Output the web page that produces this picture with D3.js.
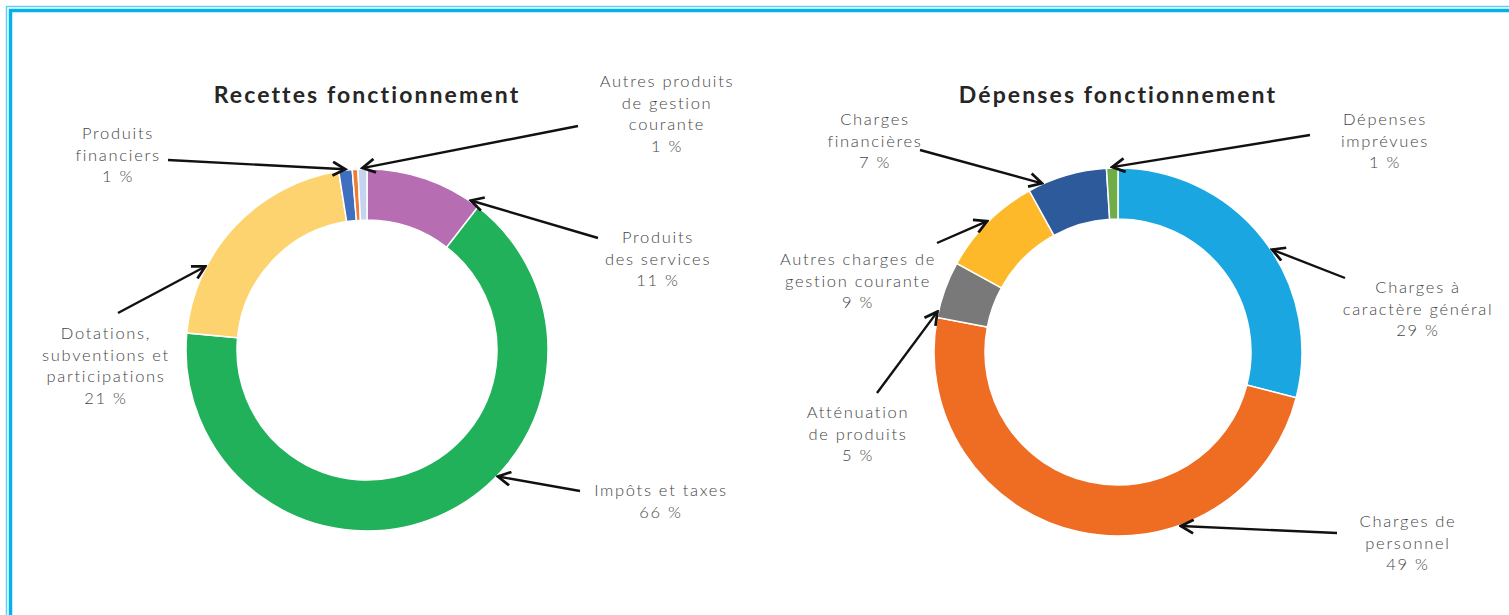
<!DOCTYPE html>
<html>
<head>
<meta charset="utf-8">
<script src="https://cdn.jsdelivr.net/npm/d3@7"></script>
<style>
  body { margin: 0; background: #fff; }
  .title { font-family: Lato, sans-serif; font-weight: 700; font-size: 23px; letter-spacing: 2.1px; fill: #262626; }
  .label { font-family: Lato, sans-serif; font-weight: 300; font-size: 16.5px; letter-spacing: 1.7px; fill: #454545; }
</style>
</head>
<body>
<div id="chart"></div>
<script>
// data - recettes (clockwise from 12 o'clock)
const recettesCategories = ["Produits des services", "Impôts et taxes", "Dotations, subventions et participations", "Produits financiers", "Atténuations de charges", "Autres produits de gestion courante"];
const recettesValues = [10.5, 66, 21, 1.2, 0.5, 0.8];
const recettesColors = ["#b66db1", "#22b15b", "#fdd36f", "#3f6fbf", "#ed7d31", "#c6d3ee"];
const recettesLabels = [["Produits", "des services", "11 %"], ["Impôts et taxes", "66 %"], ["Dotations,", "subventions et", "participations", "21 %"], ["Produits", "financiers", "1 %"], null, ["Autres produits", "de gestion", "courante", "1 %"]];

// data - dépenses
const depensesCategories = ["Charges à caractère général", "Charges de personnel", "Atténuation de produits", "Autres charges de gestion courante", "Charges financières", "Dépenses imprévues"];
const depensesValues = [29, 49, 5, 9, 7, 1];
const depensesColors = ["#1aa7e1", "#ef6c23", "#797979", "#fdb92a", "#2c5a9a", "#70ad47"];
const depensesLabels = [["Charges à", "caractère général", "29 %"], ["Charges de", "personnel", "49 %"], ["Atténuation", "de produits", "5 %"], ["Autres charges de", "gestion courante", "9 %"], ["Charges", "financières", "7 %"], ["Dépenses", "imprévues", "1 %"]];

// layout: label centre x / first baseline y, arrow tail, and where along the slice the arrow points
const recettesLayout = [
  {lx: 658, ly: 243, tail: [598, 238], frac: 0.92},
  {lx: 661, ly: 496, tail: [580, 491], frac: 0.405},
  {lx: 106, ly: 339, tail: [118, 313], frac: 0.29},
  {lx: 118, ly: 139, tail: [168, 160], frac: 0.5},
  null,
  {lx: 667, ly: 87, tail: [578, 126], frac: 0.5}
];
const depensesLayout = [
  {lx: 1418, ly: 293, tail: [1345, 278], frac: 0.54},
  {lx: 1408, ly: 527, tail: [1337, 533], frac: 0.316},
  {lx: 858, ly: 418, tail: [877, 393], frac: 0.1},
  {lx: 858, ly: 265, tail: [937, 243], frac: 0.5},
  {lx: 875, ly: 125, tail: [920, 150], frac: 0.18},
  {lx: 1385, ly: 125, tail: [1310, 135], frac: 0.5}
];

const width = 1509, height = 615;

const svg = d3.select("#chart")
  .append("svg")
  .attr("width", width)
  .attr("height", height);

// arrow head (open V)
svg.append("defs").append("marker")
  .attr("id", "head")
  .attr("markerUnits", "userSpaceOnUse")
  .attr("viewBox", "0 0 14 14")
  .attr("refX", 12).attr("refY", 7)
  .attr("markerWidth", 16).attr("markerHeight", 16)
  .attr("orient", "auto")
  .append("path")
  .attr("d", "M1,1 L12,7 L1,13")
  .attr("fill", "none")
  .attr("stroke", "#111")
  .attr("stroke-width", 2.4);

// double blue frame
svg.append("rect")
  .attr("x", 6.5).attr("y", 6.5)
  .attr("width", width + 20).attr("height", height + 20)
  .attr("fill", "none").attr("stroke", "#5fd0f5").attr("stroke-width", 1.5);
svg.append("rect")
  .attr("x", 10.5).attr("y", 10.5)
  .attr("width", width + 20).attr("height", height + 20)
  .attr("fill", "none").attr("stroke", "#00b2ef").attr("stroke-width", 3.5);

function donut(opts) {
  const {cx, cy, outer, inner, title, categories, values, colors, labels, layout} = opts;
  const g = svg.append("g").attr("transform", `translate(${cx},${cy})`);

  const pie = d3.pie().sort(null).value(d => d)(values);
  const arc = d3.arc().innerRadius(inner).outerRadius(outer);

  g.selectAll("path.slice")
    .data(pie)
    .join("path")
    .attr("class", "slice")
    .attr("d", arc)
    .attr("fill", (d, i) => colors[i])
    .attr("stroke", "#fff")
    .attr("stroke-width", 1.5)
    .append("title").text((d, i) => categories[i]);

  svg.append("text")
    .attr("class", "title")
    .attr("x", cx).attr("y", 103)
    .attr("text-anchor", "middle")
    .text(title);

  pie.forEach((d, i) => {
    const lay = layout[i];
    if (!lay || !labels[i]) return;

    const t = svg.append("text")
      .attr("class", "label")
      .attr("text-anchor", "middle");
    labels[i].forEach((line, k) => {
      t.append("tspan").attr("x", lay.lx).attr("y", lay.ly + k * 21.5).text(line);
    });

    // arrow tip on the outer edge of the slice
    const a = d.startAngle + (d.endAngle - d.startAngle) * lay.frac;
    const tipX = cx + Math.sin(a) * (outer + 1);
    const tipY = cy - Math.cos(a) * (outer + 1);
    svg.append("line")
      .attr("x1", lay.tail[0]).attr("y1", lay.tail[1])
      .attr("x2", tipX).attr("y2", tipY)
      .attr("stroke", "#111")
      .attr("stroke-width", 2.4)
      .attr("marker-end", "url(#head)");
  });
}

donut({cx: 367, cy: 350, outer: 181, inner: 130, title: "Recettes fonctionnement",
  categories: recettesCategories, values: recettesValues, colors: recettesColors,
  labels: recettesLabels, layout: recettesLayout});

donut({cx: 1118, cy: 352, outer: 184, inner: 133, title: "Dépenses fonctionnement",
  categories: depensesCategories, values: depensesValues, colors: depensesColors,
  labels: depensesLabels, layout: depensesLayout});
</script>
</body>
</html>
